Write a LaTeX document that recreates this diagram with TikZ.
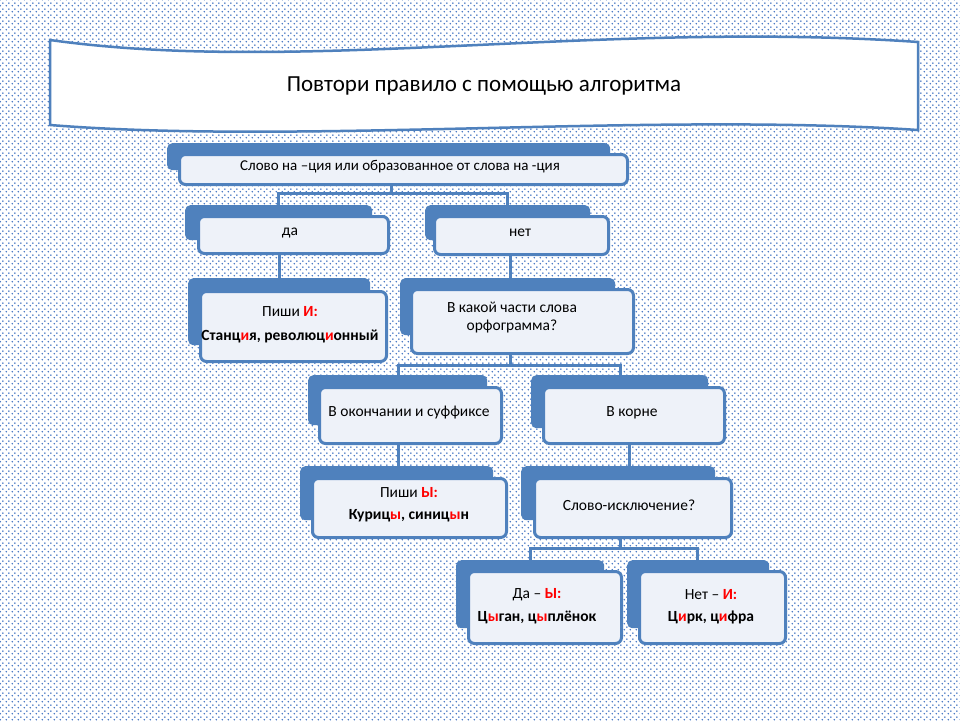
\documentclass[tikz,border=0pt]{standalone}
\usepackage{fontspec}
\setmainfont{Carlito}
\usetikzlibrary{patterns}
\definecolor{bl}{HTML}{4F81BD}
\definecolor{dt}{HTML}{3C6FC0}
\definecolor{fr}{HTML}{EEF2F9}
\definecolor{rd}{HTML}{FF0000}
\pgfdeclarepatternformonly{bigdots}{\pgfpointorigin}{\pgfpoint{6pt}{6pt}}{\pgfpoint{6pt}{6pt}}{%
 \pgfpathcircle{\pgfpoint{1.5pt}{1.5pt}}{0.95pt}
 \pgfpathcircle{\pgfpoint{4.5pt}{4.5pt}}{0.95pt}
 \pgfusepath{fill}}
\tikzset{
 back/.style={fill=bl,rounded corners=5pt,inner sep=0},
 front/.style={fill=fr,draw=bl,line width=3pt,rounded corners=6pt,inner sep=0},
 conn/.style={draw=bl,line width=3pt},
 txt/.style={font=\fontsize{15.5}{18}\selectfont,align=center,inner sep=0}
}
\newcommand{\bx}[9]{%
 \node[back,minimum width={#4-#2},minimum height={#5-#3},anchor=north west] (#1b) at (#2,#3) {};
 \node[front,minimum width={#8-#6},minimum height={#9-#7},anchor=north west] (#1) at (#6,#7) {};
}
\begin{document}
\begin{tikzpicture}[x=1pt,y=-1pt]
\fill[white] (0,0) rectangle (960,720);
\fill[pattern=bigdots,pattern color=dt] (0,0) rectangle (960,720);
\useasboundingbox (0,0) rectangle (960,720);
\draw[fill=white,draw=bl,line width=2.5pt] (50,40) .. controls (300,75) and (600,20) .. (918,42)
  -- (918,130) .. controls (650,112) and (300,145) .. (50,125) -- cycle;
\node[font=\fontsize{23}{26}\selectfont] (title) at (484,86) {Повтори правило с помощью алгоритма};
\bx{top}{167}{143}{610}{170}{178}{153}{626}{183}
\bx{da}{185}{205}{372}{240}{197}{215}{387}{252}
\bx{net}{425}{205}{590}{240}{433}{215}{607}{253}
\bx{pi}{188}{278}{370}{345}{199}{290}{385}{360}
\bx{kak}{400}{278}{615}{335}{410}{288}{632}{352}
\bx{ok}{308}{375}{487}{425}{318}{386}{500}{442}
\bx{kor}{531}{375}{708}{428}{542}{386}{723}{442}
\bx{py}{300}{466}{493}{520}{311}{477}{505}{536}
\bx{isk}{521}{466}{715}{520}{533}{477}{730}{536}
\bx{day}{456}{560}{604}{628}{467}{570}{620}{642}
\bx{neti}{627}{560}{769}{628}{638}{570}{784}{642}
\node[txt,font=\fontsize{15}{17}\selectfont] at (400,167) {Слово на –ция или образованное от слова на -ция};
\node[txt] at (290,233) {да};
\node[txt] at (520,233) {нет};
\node[txt] at (290,312) {Пиши \textcolor{rd}{\textbf{И:}}};
\node[txt] at (290,336) {\textbf{Станц\textcolor{rd}{и}я, революц\textcolor{rd}{и}онный}};
\node[txt] at (512,318) {В какой части слова\\орфограмма?};
\node[txt] at (409,413) {В окончании и суффиксе};
\node[txt] at (632,413) {В корне};
\node[txt] at (409,493) {Пиши \textcolor{rd}{\textbf{Ы:}}};
\node[txt] at (409,516) {\textbf{Куриц\textcolor{rd}{ы}, синиц\textcolor{rd}{ы}н}};
\node[txt] at (629,505) {Слово-исключение?};
\node[txt] at (537,595) {Да – \textcolor{rd}{\textbf{Ы:}}};
\node[txt] at (537,617) {\textbf{Ц\textcolor{rd}{ы}ган, ц\textcolor{rd}{ы}плёнок}};
\node[txt] at (711,595) {Нет – \textcolor{rd}{\textbf{И:}}};
\node[txt] at (711,617) {\textbf{Ц\textcolor{rd}{и}рк, ц\textcolor{rd}{и}фра}};
\draw[conn] (top.south) ++(-12,0) coordinate (t1) -- (t1|-0,193) -| (dab.north);
\draw[conn] (t1|-0,193) -| (netb.north);
\draw[conn] (da.south-|279,0) -- (279,278);
\draw[conn] (net.south-|510,0) -- (510,278);
\draw[conn] (kak.south-|510,0) -- (510,365) -| (398,375);
\draw[conn] (510,365) -| (620,375);
\draw[conn] (ok.south-|398,0) -- (398,466);
\draw[conn] (kor.south-|629,0) -- (629,466);
\draw[conn] (isk.south-|620,0) -- (620,548) -| (530,560);
\draw[conn] (620,548) -| (697,560);
\end{tikzpicture}
\end{document}
